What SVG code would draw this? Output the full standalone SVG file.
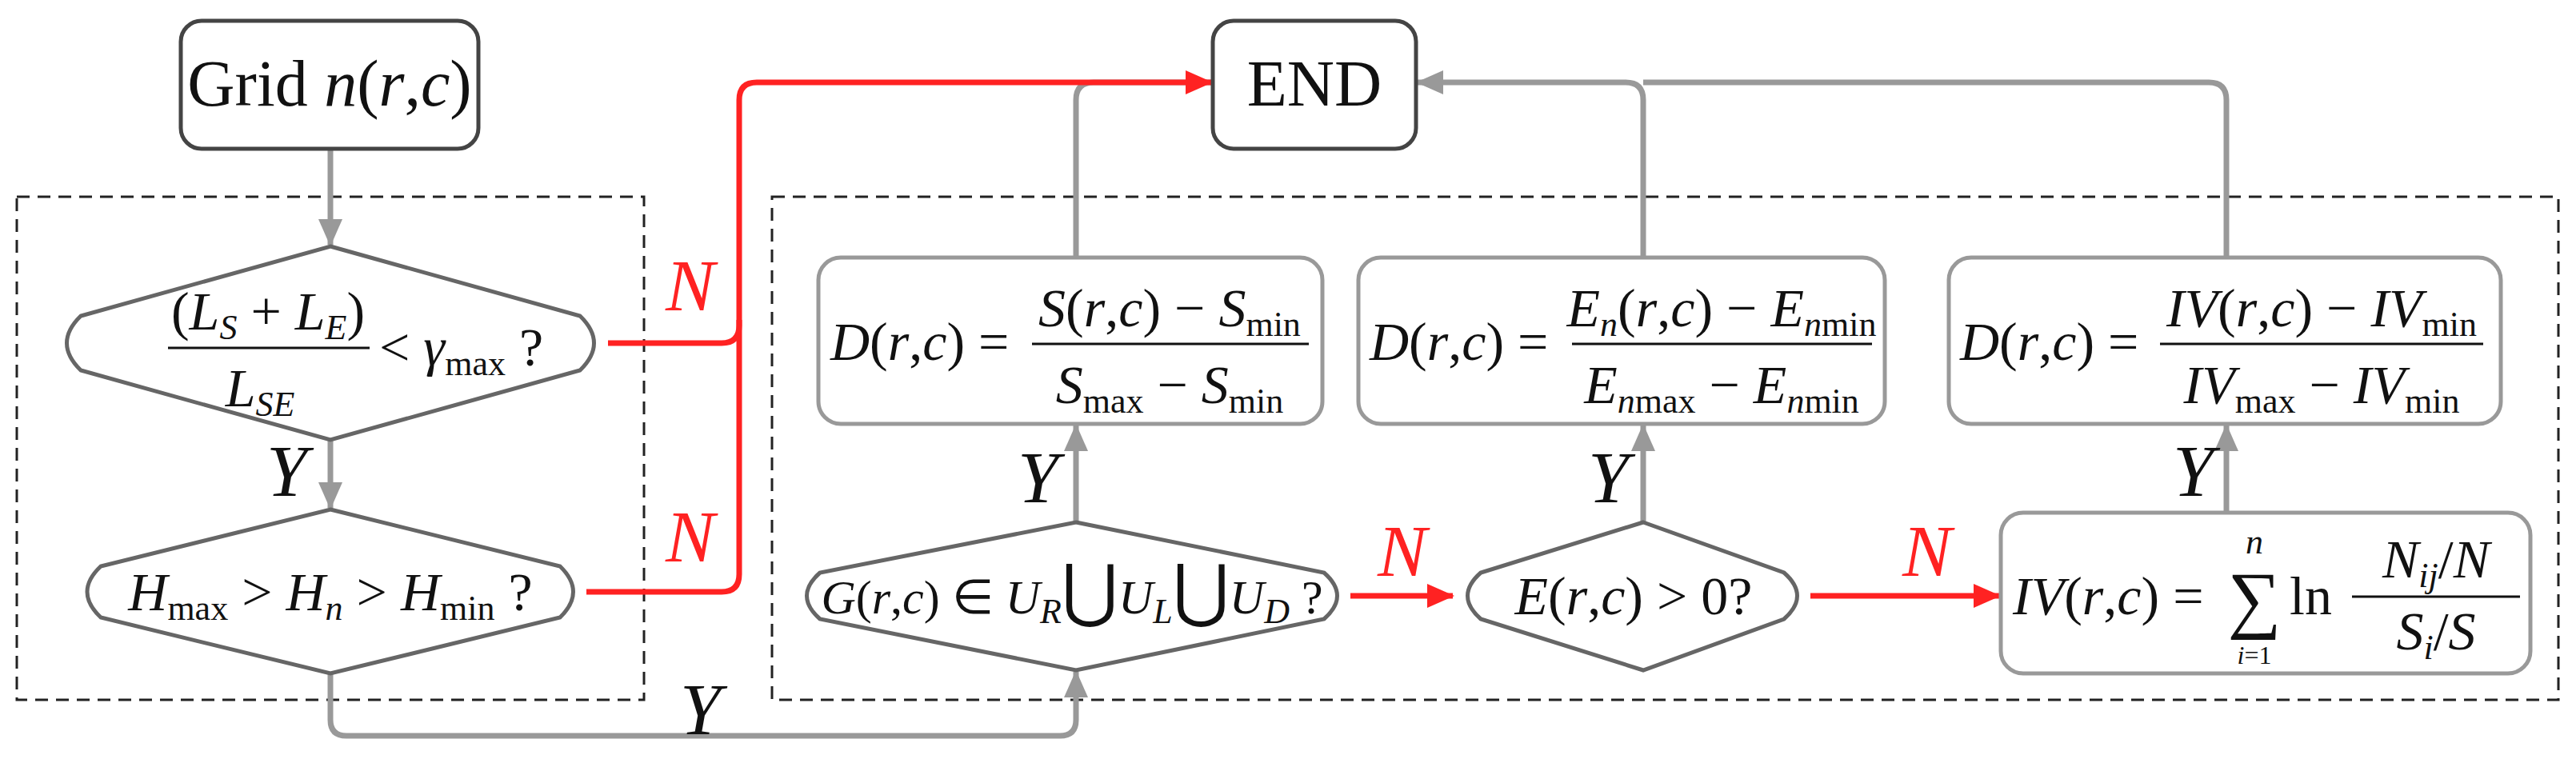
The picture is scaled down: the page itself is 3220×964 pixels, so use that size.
<svg xmlns="http://www.w3.org/2000/svg" width="3220" height="964" viewBox="0 0 3220 964">
<defs>
<marker id="ag" markerUnits="userSpaceOnUse" markerWidth="34" markerHeight="30" refX="32" refY="15" orient="auto"><path d="M0,0 L34,15 L0,30 Z" fill="#999"/></marker>
<marker id="ar" markerUnits="userSpaceOnUse" markerWidth="34" markerHeight="30" refX="32" refY="15" orient="auto"><path d="M0,0 L34,15 L0,30 Z" fill="#f22"/></marker>
</defs>
<style>
text{font-family:"Liberation Serif",serif;fill:#111}
.i{font-style:italic}
.f{font-size:68px}
.s{font-size:44px;font-style:normal}
.si{font-size:44px;font-style:italic}
.lb{font-size:92px;font-style:italic}
.red{fill:#f22}
.dash{fill:none;stroke:#222;stroke-width:3;stroke-dasharray:16,10}
.term{fill:#fff;stroke:#444;stroke-width:5}
.box{fill:#fff;stroke:#999;stroke-width:5}
.dia{fill:#fff;stroke:#666;stroke-width:5}
.g{fill:none;stroke:#999;stroke-width:7}
.r{fill:none;stroke:#f22;stroke-width:7}
.fl{stroke:#111;stroke-width:3}
</style>
<rect class="dash" x="21" y="246" width="784" height="629"/>
<rect class="dash" x="965" y="246" width="2233" height="629"/>
<g id="connectors">
<path class="g" d="M413,186 V306" marker-end="url(#ag)"/>
<path class="g" d="M413,550 V635" marker-end="url(#ag)"/>
<path class="g" d="M413,842 V900 Q413,920 433,920 H1325 Q1345,920 1345,900 V840" marker-end="url(#ag)"/>
<path class="g" d="M1345,322 V125 Q1345,103 1367,103 H1516"/>
<path class="g" d="M2783,322 V125 Q2783,103 2761,103 H2054"/>
<path class="g" d="M2054,322 V125 Q2054,103 2032,103 H1772" marker-end="url(#ag)"/>
<path class="g" d="M1345,653 V532" marker-end="url(#ag)"/>
<path class="g" d="M2054,653 V532" marker-end="url(#ag)"/>
<path class="g" d="M2783,641 V532" marker-end="url(#ag)"/>
<path class="r" d="M760,429 H902 Q924,429 924,407 V125 Q924,103 946,103 H1514" marker-end="url(#ar)"/>
<path class="r" d="M733,740 H902 Q924,740 924,718 V400"/>
<path class="r" d="M1688,745 H1816" marker-end="url(#ar)"/>
<path class="r" d="M2263,745 H2499" marker-end="url(#ar)"/>
<text class="lb red" x="832" y="388">N</text>
<text class="lb red" x="832" y="702">N</text>
<text class="lb red" x="1722" y="720">N</text>
<text class="lb red" x="2378" y="720">N</text>
<text class="lb" x="333" y="620">Y</text>
<text class="lb" x="850" y="918">Y</text>
<text class="lb" x="1272" y="628">Y</text>
<text class="lb" x="1985" y="628">Y</text>
<text class="lb" x="2716" y="620">Y</text>
</g>
<g id="grid"><rect class="term" x="226" y="26" width="372" height="160" rx="26"/>
<text x="412" y="132" font-size="82" text-anchor="middle">Grid <tspan class="i">n</tspan>(<tspan class="i">r</tspan>,<tspan class="i">c</tspan>)</text></g>
<g id="end"><rect class="term" x="1516" y="26" width="254" height="160" rx="26"/>
<text x="1643" y="132" font-size="82" text-anchor="middle">END</text></g>
<g id="cond1"><path class="dia" d="M413,308 L725,395 Q760,429 725,463 L413,550 L101,463 Q66,429 101,395 Z"/>
<text class="f" x="335" y="412" text-anchor="middle">(<tspan class="i">L</tspan><tspan class="si" dy="12">S</tspan><tspan dy="-12"> + </tspan><tspan class="i">L</tspan><tspan class="si" dy="12">E</tspan><tspan dy="-12">)</tspan></text>
<line class="fl" x1="210" y1="435" x2="462" y2="435"/>
<text class="f i" x="325" y="508" text-anchor="middle">L<tspan class="si" dy="12">SE</tspan></text>
<text class="f" x="474" y="457">&lt; <tspan class="i">γ</tspan><tspan class="s" dy="12">max</tspan><tspan dy="-12"> ?</tspan></text></g>
<g id="cond2"><path class="dia" d="M413,637 L700,708 Q733,740 700,772 L413,842 L126,772 Q92,740 126,708 Z"/>
<text class="f" x="413" y="763" text-anchor="middle"><tspan class="i">H</tspan><tspan class="s" dy="12">max</tspan><tspan dy="-12"> &gt; </tspan><tspan class="i">H</tspan><tspan class="si" dy="12">n</tspan><tspan dy="-12"> &gt; </tspan><tspan class="i">H</tspan><tspan class="s" dy="12">min</tspan><tspan dy="-12"> ?</tspan></text></g>
<g id="condG"><path class="dia" d="M1345,653 L1655,716 Q1688,745 1655,774 L1345,838 L1025,774 Q992,745 1025,716 Z"/>
<text x="1340" y="767" text-anchor="middle" font-size="60"><tspan class="i">G</tspan>(<tspan class="i">r</tspan>,<tspan class="i">c</tspan>) ∈ <tspan class="i">U</tspan><tspan class="si" font-size="38" dy="12">R</tspan><tspan dy="-12" font-size="86">⋃</tspan><tspan class="i">U</tspan><tspan class="si" font-size="38" dy="12">L</tspan><tspan dy="-12" font-size="86">⋃</tspan><tspan class="i">U</tspan><tspan class="si" font-size="38" dy="12">D</tspan><tspan dy="-12"> ?</tspan></text></g>
<g id="condE"><path class="dia" d="M2054,653 L2230,716 Q2263,745 2230,774 L2054,838 L1851,774 Q1818,745 1851,716 Z"/>
<text class="f" x="2042" y="768" text-anchor="middle"><tspan class="i">E</tspan>(<tspan class="i">r</tspan>,<tspan class="i">c</tspan>) &gt; 0?</text></g>
<g id="boxS"><rect class="box" x="1023" y="322" width="630" height="208" rx="28"/>
<text class="f" x="1038" y="450"><tspan class="i">D</tspan>(<tspan class="i">r</tspan>,<tspan class="i">c</tspan>) =</text>
<text class="f" x="1462" y="408" text-anchor="middle"><tspan class="i">S</tspan>(<tspan class="i">r</tspan>,<tspan class="i">c</tspan>) − <tspan class="i">S</tspan><tspan class="s" dy="12">min</tspan></text>
<line class="fl" x1="1290" y1="430" x2="1636" y2="430"/>
<text class="f" x="1462" y="504" text-anchor="middle"><tspan class="i">S</tspan><tspan class="s" dy="12">max</tspan><tspan dy="-12"> − </tspan><tspan class="i">S</tspan><tspan class="s" dy="12">min</tspan></text></g>
<g id="boxE"><rect class="box" x="1698" y="322" width="658" height="208" rx="28"/>
<text class="f" x="1712" y="450"><tspan class="i">D</tspan>(<tspan class="i">r</tspan>,<tspan class="i">c</tspan>) =</text>
<text class="f" x="2152" y="408" text-anchor="middle"><tspan class="i">E</tspan><tspan class="si" dy="12">n</tspan><tspan dy="-12">(</tspan><tspan class="i">r</tspan>,<tspan class="i">c</tspan>) − <tspan class="i">E</tspan><tspan class="si" dy="12">n</tspan><tspan class="s">min</tspan></text>
<line class="fl" x1="1965" y1="430" x2="2340" y2="430"/>
<text class="f" x="2152" y="504" text-anchor="middle"><tspan class="i">E</tspan><tspan class="si" dy="12">n</tspan><tspan class="s">max</tspan><tspan dy="-12"> − </tspan><tspan class="i">E</tspan><tspan class="si" dy="12">n</tspan><tspan class="s">min</tspan></text></g>
<g id="boxIV"><rect class="box" x="2436" y="322" width="690" height="208" rx="28"/>
<text class="f" x="2450" y="450"><tspan class="i">D</tspan>(<tspan class="i">r</tspan>,<tspan class="i">c</tspan>) =</text>
<text class="f" x="2902" y="408" text-anchor="middle"><tspan class="i">IV</tspan>(<tspan class="i">r</tspan>,<tspan class="i">c</tspan>) − <tspan class="i">IV</tspan><tspan class="s" dy="12">min</tspan></text>
<line class="fl" x1="2700" y1="430" x2="3104" y2="430"/>
<text class="f" x="2902" y="504" text-anchor="middle"><tspan class="i">IV</tspan><tspan class="s" dy="12">max</tspan><tspan dy="-12"> − </tspan><tspan class="i">IV</tspan><tspan class="s" dy="12">min</tspan></text></g>
<g id="boxIVcalc"><rect class="box" x="2501" y="641" width="662" height="201" rx="28"/>
<text class="f" x="2516" y="768"><tspan class="i">IV</tspan>(<tspan class="i">r</tspan>,<tspan class="i">c</tspan>) =</text>
<text x="2818" y="780" font-size="94" text-anchor="middle">∑</text>
<text class="si" x="2818" y="692" text-anchor="middle" font-size="32">n</text>
<text x="2818" y="830" text-anchor="middle" font-size="32"><tspan class="i">i</tspan>=1</text>
<text class="f" x="2862" y="768">ln</text>
<text class="f" x="3045" y="722" text-anchor="middle"><tspan class="i">N</tspan><tspan class="si" dy="12">ij</tspan><tspan dy="-12">/</tspan><tspan class="i">N</tspan></text>
<line class="fl" x1="2940" y1="746" x2="3150" y2="746"/>
<text class="f" x="3045" y="812" text-anchor="middle"><tspan class="i">S</tspan><tspan class="si" dy="12">i</tspan><tspan dy="-12">/</tspan><tspan class="i">S</tspan></text></g>
</svg>
